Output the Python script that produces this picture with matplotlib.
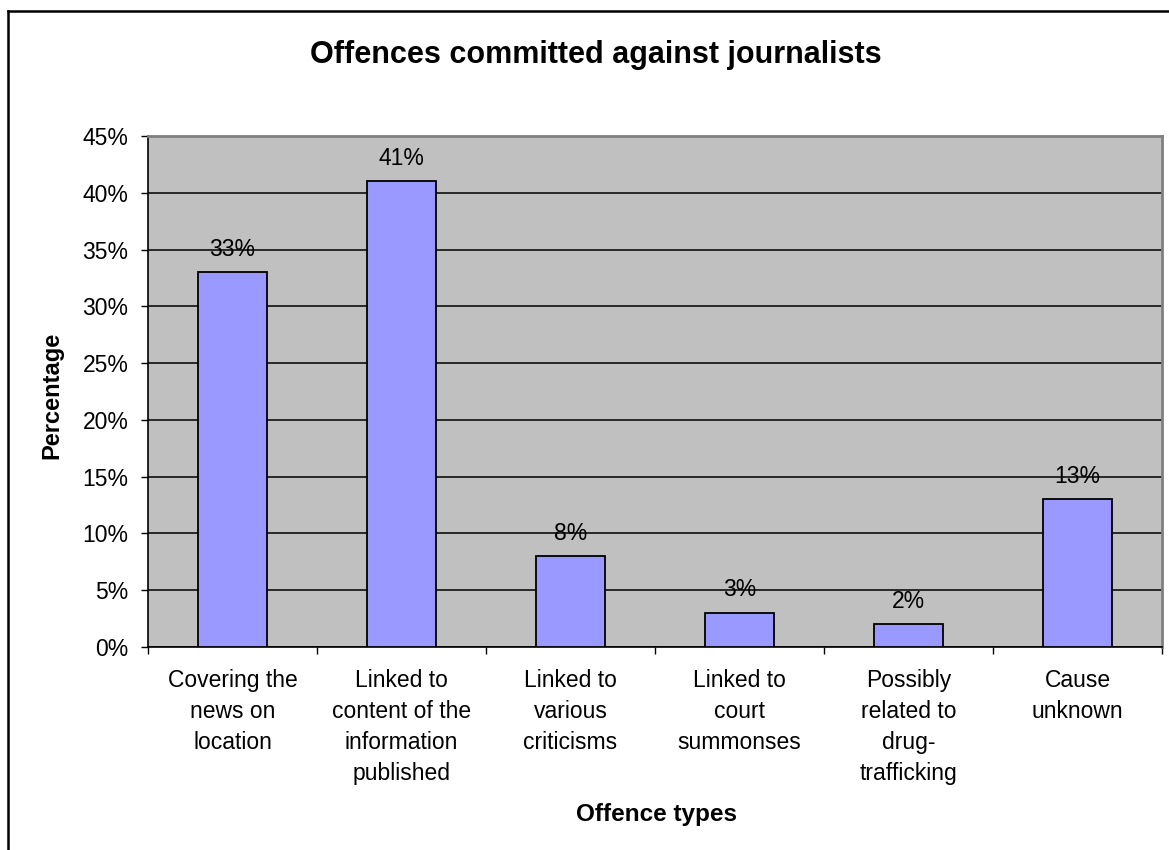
import matplotlib.pyplot as plt
from matplotlib.lines import Line2D

categories = [
    'Covering the\nnews on\nlocation',
    'Linked to\ncontent of the\ninformation\npublished',
    'Linked to\nvarious\ncriticisms',
    'Linked to\ncourt\nsummonses',
    'Possibly\nrelated to\ndrug-\ntrafficking',
    'Cause\nunknown',
]
percentages = [33, 41, 8, 3, 2, 13]
y_ticks = [0, 5, 10, 15, 20, 25, 30, 35, 40, 45]

plt.rcParams['font.family'] = ['Liberation Sans', 'DejaVu Sans']

W, H = 1169, 850
fig = plt.figure(figsize=(W / 100, H / 100), dpi=100)
ax = fig.add_axes([148 / W, 1 - 647 / H, (1162 - 148) / W, (647 - 136) / H])

# chart frame (only left and top edges fall inside the image)
fig.lines.append(Line2D([8 / W, 8 / W], [0, 1 - 11 / H], transform=fig.transFigure,
                        color='black', linewidth=1.8))
fig.lines.append(Line2D([8 / W, 1], [1 - 11 / H, 1 - 11 / H], transform=fig.transFigure,
                        color='black', linewidth=1.8))

ax.set_facecolor('#C0C0C0')
x = list(range(len(categories)))
ax.bar(x, percentages, width=0.41, color='#9999FF', edgecolor='black',
       linewidth=1.3, zorder=3)
for xi, v in zip(x, percentages):
    ax.text(xi, v + 1.45, f'{v}%', ha='center', va='baseline', fontsize=16.5)

ax.set_xlim(-0.5, len(categories) - 0.5)
ax.set_ylim(0, 45)
ax.set_yticks(y_ticks)
ax.set_yticklabels([f'{t}%' for t in y_ticks], fontsize=16.5)
ax.yaxis.grid(True, color='black', linewidth=1.1)
ax.set_axisbelow(True)

ax.set_xticks([i + 0.5 for i in range(-1, len(categories))])
ax.set_xticklabels([])
ax.tick_params(axis='x', length=5, direction='out', width=1)
ax.tick_params(axis='y', length=5, direction='out', width=1, pad=9)
for xi, label in zip(x, categories):
    ax.text(xi, -1.9, label, ha='center', va='top', fontsize=16.5,
            linespacing=1.45)

for side in ['top', 'right']:
    ax.spines[side].set_color('#808080')
    ax.spines[side].set_linewidth(2)
for side in ['left', 'bottom']:
    ax.spines[side].set_color('black')
    ax.spines[side].set_linewidth(1.2)

fig.text(52 / W, 1 - 395 / H, 'Percentage', rotation=90, ha='center', va='center',
         fontsize=17, fontweight='bold')
fig.text(656 / W, 1 - 815 / H, 'Offence types', ha='center', va='center',
         fontsize=17.5, fontweight='bold')
fig.text(596 / W, 1 - 55 / H, 'Offences committed against journalists',
         ha='center', va='center', fontsize=22, fontweight='bold')

fig.savefig('out.png', dpi=100)
